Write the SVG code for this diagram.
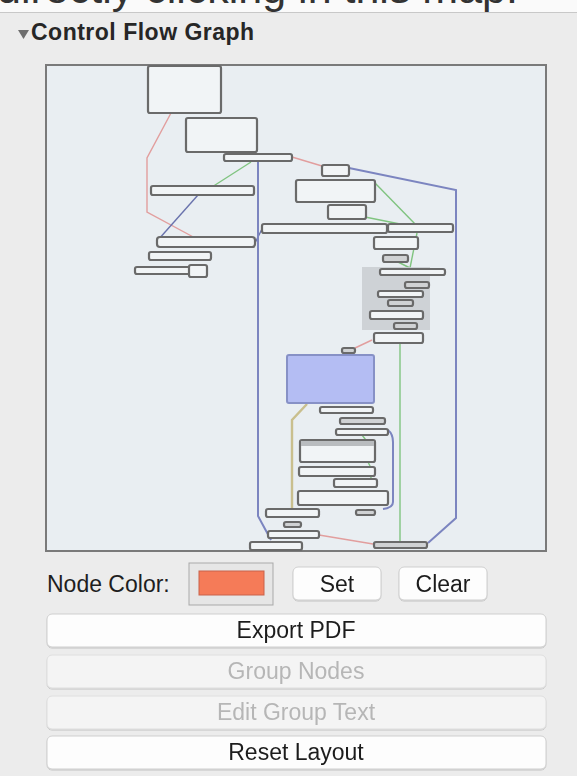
<svg xmlns="http://www.w3.org/2000/svg" width="577" height="776" viewBox="0 0 577 776">
  <style>
    .ui { font-family: "Liberation Sans", Arial, "DejaVu Sans", sans-serif; }
    .n { fill: #f1f4f6; stroke: #6a6a6a; stroke-width: 2.2; }
    .ng { fill: #d0d2d4; stroke: #6a6a6a; stroke-width: 2.2; }
    .e { fill: none; stroke-width: 1.4; }
    .blue { stroke: #6a73ad; }
    .blue2 { stroke: #7c85c0; stroke-width: 2; }
    .green { stroke: #80c480; }
    .pink { stroke: #e29e9e; }
    .tan { stroke: #c9bf8e; stroke-width: 2.4; }
    .btn { fill: #fdfdfd; stroke: #cfcfcf; stroke-width: 1; }
    .btnoff { fill: #f4f4f4; stroke: #dedede; stroke-width: 1; }
    .lbl { font-size: 23px; fill: #1e1e1e; text-anchor: middle; }
    .off { fill: #b6b6b6; }
  </style>
  <defs>
    <filter id="shadow" x="-5%" y="-20%" width="110%" height="150%">
      <feDropShadow dx="0" dy="1" stdDeviation="0.6" flood-color="#000" flood-opacity="0.18"/>
    </filter>
  </defs>

  <!-- panel background -->
  <rect x="0" y="0" width="577" height="776" fill="#ececec"/>
  <rect x="0" y="0" width="577" height="12" fill="#fafafa"/>
  <line x1="0" y1="12.5" x2="577" y2="12.5" stroke="#c8c8c8" stroke-width="1"/>
  <text class="ui" x="-3" y="3" font-size="43" fill="#333">directly clicking in this map.</text>

  <!-- section header -->
  <path d="M18,30 L29,30 L23.5,39 Z" fill="#6e6e6e"/>
  <text class="ui" x="31" y="40" font-size="23" font-weight="bold" letter-spacing="0.5" fill="#262626">Control Flow Graph</text>

  <!-- graph canvas -->
  <rect x="46" y="65" width="500" height="486" fill="#e9eef2" stroke="#7a7a7a" stroke-width="2"/>

  <!-- connectors -->
  <g id="edges">
    <polyline class="e pink" points="171,113 147,158 147,212 197,239"/>
    <line class="e green" x1="251" y1="162" x2="212" y2="187"/>
    <line class="e blue" x1="198" y1="195" x2="158" y2="240"/>
    <line class="e blue" x1="255" y1="243" x2="262" y2="229"/>
    <polyline class="e blue2" points="258,153 258,516 271,540"/>
    <line class="e pink" x1="292" y1="157" x2="322" y2="166"/>
    <polyline class="e blue2" points="349,168 456,190 456,518 428,543"/>
    <line class="e green" x1="375" y1="183" x2="417" y2="226"/>
    <line class="e green" x1="365" y1="217" x2="415" y2="227"/>
    <line class="e green" x1="417" y1="233" x2="410" y2="268"/>
    <line class="e green" x1="398" y1="262" x2="410" y2="268"/>
    <line class="e green" x1="400" y1="344" x2="400" y2="542"/>
    <line class="e pink" x1="372" y1="340" x2="355" y2="348"/>
    <polyline class="e tan" points="307,404 292,420 292,509"/>
    <path class="e blue2" d="M388,430 Q393,434 393,442 L393,502 Q393,508 383,509"/>
    <polyline class="e green" points="362,435 372,448 368,462 372,470 370,484"/>
    <line class="e pink" x1="319" y1="535" x2="373" y2="544"/>
  </g>

  <!-- left column nodes -->
  <g id="n1"><rect class="n" x="148" y="66" width="73" height="47" rx="2"/></g>
  <g id="n2"><rect class="n" x="186" y="118" width="71" height="34" rx="2"/></g>
  <g id="n3"><rect class="n" x="224" y="154" width="68" height="7" rx="2"/></g>
  <g id="n4"><rect class="n" x="151" y="186" width="103" height="9" rx="2"/></g>
  <g id="n5"><rect class="n" x="157" y="237" width="98" height="10" rx="3"/></g>
  <g id="n6"><rect class="n" x="149" y="252" width="62" height="8" rx="2"/></g>
  <g id="n7"><rect class="n" x="135" y="267" width="55" height="7" rx="2"/></g>
  <g id="n8"><rect class="n" x="189" y="265" width="18" height="12" rx="2"/></g>

  <!-- right column nodes -->
  <g id="n9"><rect class="n" x="322" y="165" width="27" height="11" rx="2"/></g>
  <g id="n10"><rect class="n" x="296" y="180" width="79" height="22" rx="2"/></g>
  <g id="n11"><rect class="n" x="328" y="205" width="38" height="14" rx="2"/></g>
  <g id="n12"><rect class="n" x="262" y="224" width="125" height="9" rx="2"/></g>
  <g id="n13"><rect class="n" x="388" y="224" width="65" height="8" rx="2"/></g>
  <g id="n14"><rect class="n" x="374" y="237" width="44" height="12" rx="2"/></g>
  <g id="n15"><rect class="ng" x="383" y="255" width="25" height="7" rx="2"/></g>

  <!-- grouped region -->
  <g id="group1">
    <rect x="362" y="267" width="68" height="63" fill="#c9cdd1" opacity="0.85"/>
    <rect class="n" x="380" y="269" width="65" height="6" rx="2"/>
    <rect class="ng" x="405" y="282" width="24" height="6" rx="2"/>
    <rect class="n" x="378" y="291" width="45" height="6" rx="2"/>
    <rect class="ng" x="388" y="300" width="25" height="6" rx="2"/>
    <rect class="n" x="370" y="311" width="53" height="8" rx="2"/>
    <rect class="ng" x="394" y="323" width="23" height="6" rx="2"/>
  </g>
  <g id="n16"><rect class="n" x="374" y="333" width="49" height="10" rx="2"/></g>
  <g id="n17"><rect class="ng" x="342" y="348" width="13" height="5" rx="2"/></g>

  <!-- highlighted node -->
  <g id="n18"><rect x="287" y="355" width="87" height="48" rx="2" fill="#b4bdf3" stroke="#8791c6" stroke-width="2"/></g>

  <!-- lower cluster -->
  <g id="n19"><rect class="n" x="320" y="407" width="53" height="6" rx="2"/></g>
  <g id="n20"><rect class="ng" x="340" y="418" width="45" height="6" rx="2"/></g>
  <g id="n21"><rect class="n" x="336" y="429" width="52" height="6" rx="2"/></g>
  <g id="n22">
    <rect class="n" x="300" y="440" width="75" height="22" rx="2"/>
    <rect x="301" y="441" width="73" height="5" fill="#b9bcbf"/>
  </g>
  <g id="n23"><rect class="n" x="299" y="467" width="76" height="9" rx="2"/></g>
  <g id="n24"><rect class="n" x="334" y="479" width="43" height="8" rx="2"/></g>
  <g id="n25"><rect class="n" x="298" y="491" width="90" height="14" rx="2"/></g>
  <g id="n26"><rect class="ng" x="356" y="510" width="19" height="5" rx="2"/></g>
  <g id="n27"><rect class="n" x="266" y="509" width="53" height="8" rx="2"/></g>
  <g id="n28"><rect class="ng" x="284" y="522" width="17" height="5" rx="2"/></g>
  <g id="n29"><rect class="n" x="268" y="531" width="51" height="7" rx="2"/></g>
  <g id="n30"><rect class="n" x="250" y="542" width="52" height="8" rx="2"/></g>
  <g id="n31"><rect class="ng" x="374" y="542" width="53" height="6" rx="2"/></g>

  <!-- node colour controls -->
  <text class="ui" x="47" y="592" font-size="23" fill="#1e1e1e">Node Color:</text>
  <rect x="189" y="563" width="84" height="42" fill="#e6e6e6" stroke="#a9a9a9" stroke-width="1"/>
  <rect x="199" y="571" width="65" height="24" fill="#f57b58" stroke="#c8624a" stroke-width="1"/>
  <g id="btn-set" filter="url(#shadow)">
    <rect class="btn" x="293" y="567" width="88" height="33" rx="5"/>
    <text class="ui lbl" x="337" y="592">Set</text>
  </g>
  <g id="btn-clear" filter="url(#shadow)">
    <rect class="btn" x="399" y="567" width="88" height="33" rx="5"/>
    <text class="ui lbl" x="443" y="592">Clear</text>
  </g>

  <!-- action buttons -->
  <g id="btn-export" filter="url(#shadow)">
    <rect class="btn" x="47" y="614" width="499" height="33" rx="5"/>
    <text class="ui lbl" x="296" y="638">Export PDF</text>
  </g>
  <g id="btn-group" filter="url(#shadow)">
    <rect class="btnoff" x="47" y="655" width="499" height="33" rx="5"/>
    <text class="ui lbl off" x="296" y="679">Group Nodes</text>
  </g>
  <g id="btn-edit" filter="url(#shadow)">
    <rect class="btnoff" x="47" y="696" width="499" height="33" rx="5"/>
    <text class="ui lbl off" x="296" y="720">Edit Group Text</text>
  </g>
  <g id="btn-reset" filter="url(#shadow)">
    <rect class="btn" x="47" y="736" width="499" height="33" rx="5"/>
    <text class="ui lbl" x="296" y="760">Reset Layout</text>
  </g>
</svg>
